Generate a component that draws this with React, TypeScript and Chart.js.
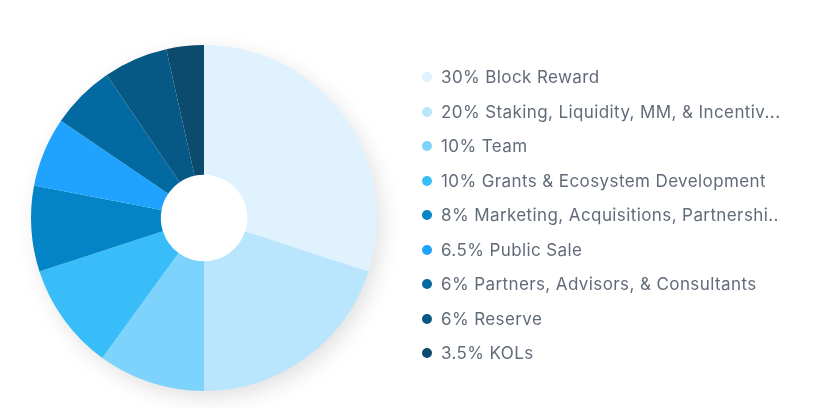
import React, { useEffect, useRef } from "react";
import { Chart, registerables } from "chart.js";

Chart.register(...registerables);

const labels = [
  "30% Block Reward",
  "20% Staking, Liquidity, MM, & Incentiv...",
  "10% Team",
  "10% Grants & Ecosystem Development",
  "8% Marketing, Acquisitions, Partnershi..",
  "6.5% Public Sale",
  "6% Partners, Advisors, & Consultants",
  "6% Reserve",
  "3.5% KOLs",
];
const values = [30, 20, 10, 10, 8, 6.5, 6, 6, 3.5];
const colors = [
  "#E0F2FE",
  "#BAE6FD",
  "#7DD3FC",
  "#38BDF8",
  "#0284C7",
  "#1FA3FE",
  "#0369A1",
  "#075985",
  "#0C4A6E",
];

const shadowPlugin = {
  id: "pieShadow",
  beforeDatasetsDraw(chart: any) {
    const meta = chart.getDatasetMeta(0);
    const arc = meta.data[0];
    if (!arc) return;
    const { x, y, outerRadius } = arc.getProps(["x", "y", "outerRadius"], true);
    const ctx = chart.ctx;
    ctx.save();
    ctx.shadowColor = "rgba(0,0,0,0.13)";
    ctx.shadowBlur = 22;
    ctx.shadowOffsetX = 5;
    ctx.shadowOffsetY = 7;
    ctx.fillStyle = "#ffffff";
    ctx.beginPath();
    ctx.arc(x, y, outerRadius - 1, 0, Math.PI * 2);
    ctx.fill();
    ctx.restore();
  },
};

export default function App() {
  const ref = useRef<HTMLCanvasElement | null>(null);
  useEffect(() => {
    if (!ref.current) return;
    const chart = new Chart(ref.current, {
      type: "doughnut",
      data: {
        labels,
        datasets: [
          {
            data: values,
            backgroundColor: colors,
            borderWidth: 0,
            hoverOffset: 0,
          },
        ],
      },
      options: {
        animation: false,
        responsive: false,
        maintainAspectRatio: false,
        cutout: "25%",
        layout: { padding: { left: 31, top: 45, right: 445, bottom: 17 } },
        plugins: {
          legend: { display: false },
          tooltip: { enabled: false },
        },
      },
      plugins: [shadowPlugin],
    });
    return () => chart.destroy();
  }, []);

  return (
    <div
      style={{
        position: "absolute",
        left: 0,
        top: 0,
        width: 822,
        height: 408,
        background: "#ffffff",
      }}
    >
      <canvas ref={ref} width={822} height={408} style={{ display: "block" }} />
      <div style={{ position: "absolute", left: 422, top: 60 }}>
        {labels.map((l, i) => (
          <div
            key={i}
            style={{
              position: "absolute",
              left: 0,
              top: i * 34.5,
              height: 34,
              display: "flex",
              alignItems: "center",
              whiteSpace: "nowrap",
              fontFamily: "Inter, sans-serif",
              fontSize: 17,
              letterSpacing: "0.4px",
              color: "#626b79",
            }}
          >
            <span
              style={{
                display: "inline-block",
                width: 10,
                height: 10,
                borderRadius: "50%",
                background: colors[i],
                marginRight: 9,
              }}
            />
            <span>{l}</span>
          </div>
        ))}
      </div>
    </div>
  );
}
